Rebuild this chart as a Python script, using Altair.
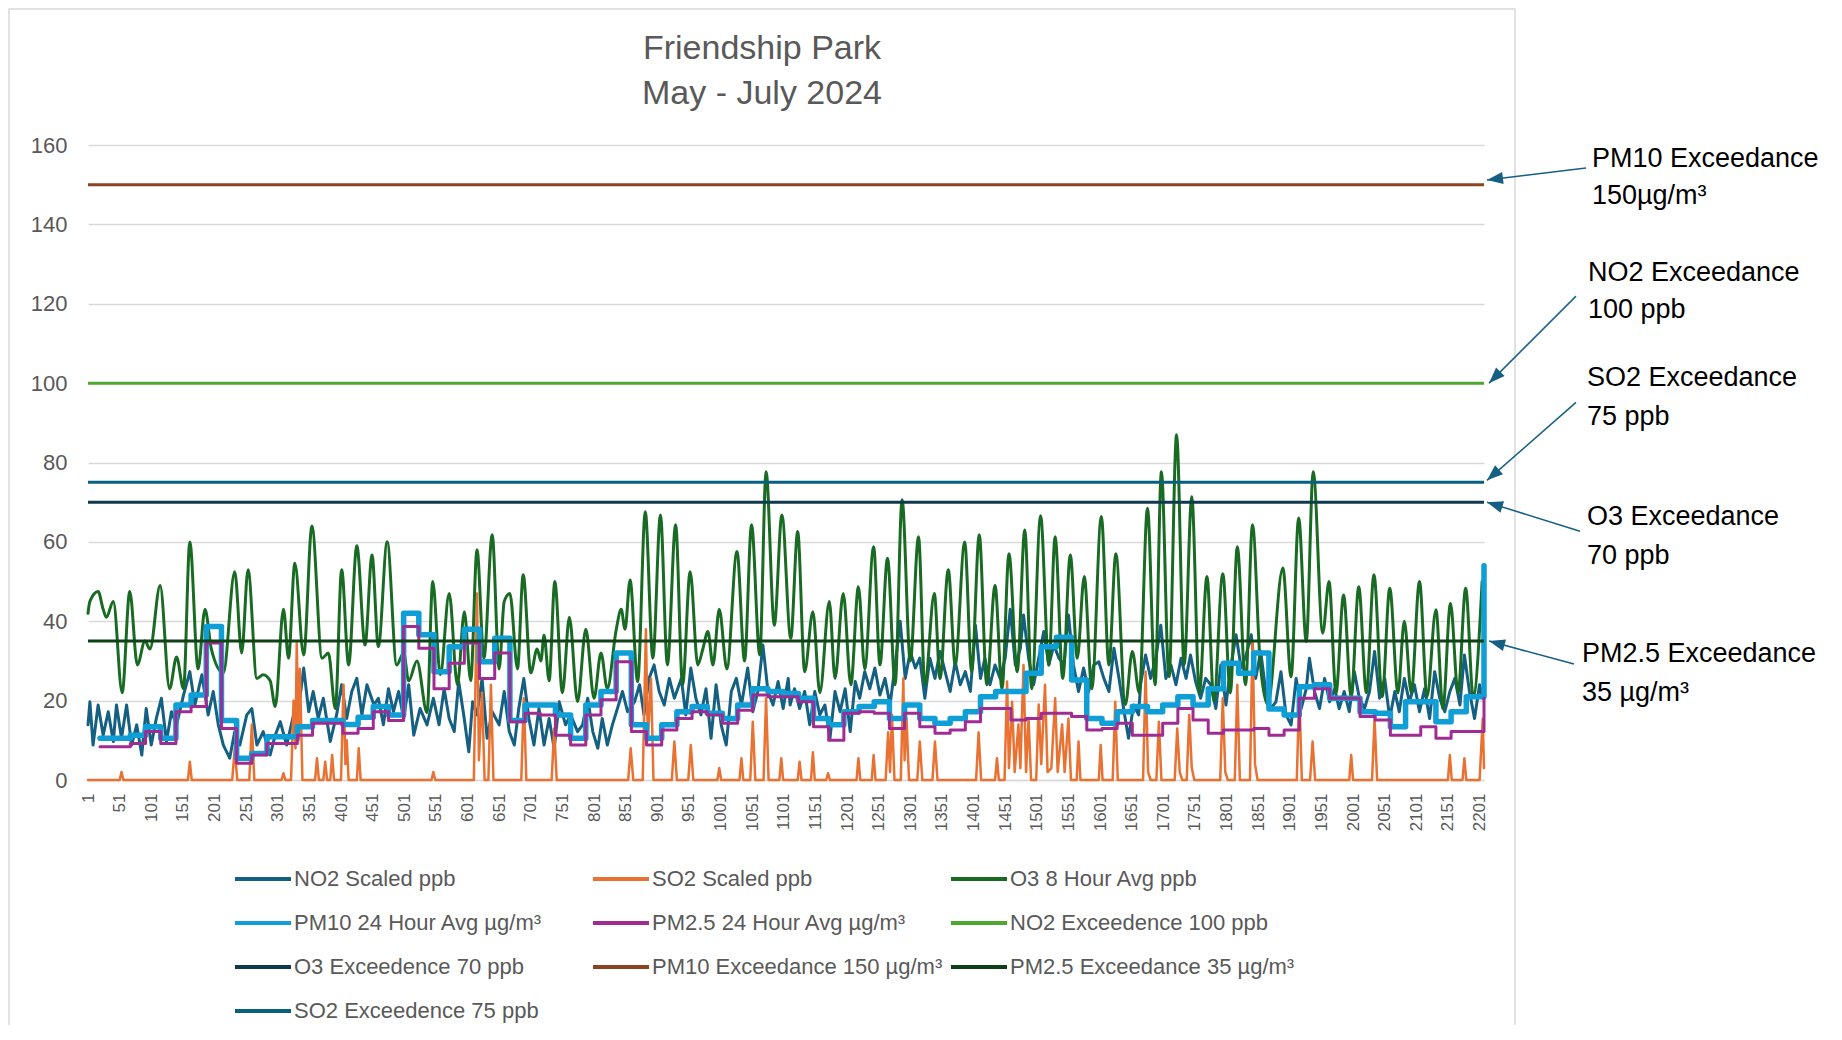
import math
import altair as alt
import pandas as pd

# ---------------- data ----------------
X_TICKS = [1, 51, 101, 151, 201, 251, 301, 351, 401, 451, 501, 551, 601, 651, 701,
           751, 801, 851, 901, 951, 1001, 1051, 1101, 1151, 1201, 1251, 1301, 1351,
           1401, 1451, 1501, 1551, 1601, 1651, 1701, 1751, 1801, 1851, 1901, 1951,
           2001, 2051, 2101, 2151, 2201]
Y_TICKS = [0, 20, 40, 60, 80, 100, 120, 140, 160]
X_FIRST, X_LAST = 1, 2208

SERIES = ["NO2 Scaled ppb", "SO2 Scaled ppb", "O3 8 Hour Avg ppb",
          "PM10 24 Hour Avg µg/m³", "PM2.5 24 Hour Avg µg/m³", "NO2 Exceedence 100 ppb",
          "O3 Exceedence 70 ppb", "PM10 Exceedance 150 µg/m³", "PM2.5 Exceedance 35 µg/m³",
          "SO2 Exceedence 75 ppb"]
COLORS = ["#156082", "#E97132", "#196B24", "#0F9ED5", "#A02B93", "#4EA72E",
          "#0D3A4E", "#8C441E", "#0F4016", "#095F80"]

# hour index, value
NO2 = [(1,13.9),(4,19.7),(9,8.8),(17,18.9),(25,11.3),(33,17.2),(41,9.7),(46,18.9),(54,10.5),(62,18.9),
       (70,8.8),(78,13.9),(86,6.3),(93,18),(101,8.8),(109,15.5),(117,20.6),(125,9.7),(133,17.2),(141,13.9),
       (152,21.4),(162,27.3),(170,18.9),(181,26.5),(191,16.4),(199,22.3),(207,13.9),(215,8.8),(225,5.5),(233,12.2),
       (241,8.8),(252,16.4),(260,18),(268,8.8),(278,12.2),(289,6.3),(297,11.3),(305,14.7),(315,8.8),(326,16.4),
       (336,20.6),(342,28.2),(350,17.2),(357,22.3),(365,15.5),(373,20.6),(384,9.7),(394,16.4),(402,24),(410,15.5),
       (418,22.3),(426,25.6),(434,16.4),(442,24),(453,18.9),(460,20.6),(468,13.9),(476,23),(484,17.2),(492,22.3),
       (500,15.5),(508,24),(516,11.3),(526,18),(537,13.9),(547,20.6),
       (556,13.9),(564,23),(572,15.5),(580,12.2),(587,24.8),(595,16.4),(603,7.1),(609,19.7),(616,16.4),(624,25.6),
       (632,10.5),(640,17.2),(651,13.9),(659,22.3),(667,12.2),(675,8.8),(682,18),(690,25.6),(698,15.5),(706,8.8),
       (714,18),(722,8.8),(730,15.5),(738,8),(746,19.7),(756,13.9),(764,16.4),(775,12.2),(783,13.9),(791,20.6),
       (799,12.2),(807,8),(814,15.5),(822,8.8),(830,13.9),(838,18),(846,22.3),(854,17.2),(865,19.7),(873,24),
       (880,16.4),(888,25.6),(896,29),(904,22.3),(912,18.9),(920,25.6),(928,20.6),(939,25.6),(946,16.4),(954,28.2),
       (962,20.6),(970,16.4),(978,23),(986,10.5),(994,24),(1002,13.9),(1010,8.8),(1018,22.3),(1026,25.6),(1034,18.9),
       (1044,28.2),(1052,17.2),(1060,22.3),(1068,34),(1076,22.3),(1084,18.9),(1092,24.8),(1100,18),(1108,25.6),
       (1111,18.9),(1118,23),(1126,18),(1134,22.3),(1142,13.9),(1150,22.3),(1158,16.4),(1166,18.9),(1174,10.5),(1182,22.3),
       (1190,17.2),(1198,23),(1206,12.2),(1214,24.8),(1221,20.6),(1229,27.3),(1237,23),(1245,28.2),(1253,21.4),(1261,25.6),
       (1269,18.9),(1277,29),(1285,40),(1293,25.6),(1301,32.4),(1309,28.2),(1316,30.7),(1324,20.6),(1332,30.7),(1340,25.6),
       (1348,32.4),(1356,27.3),(1364,22.3),(1372,29.8),(1380,24),(1388,27.3),(1396,22.3),(1404,39),(1412,25.6),(1419,30.7),
       (1427,24),(1435,29),(1443,25.6),(1451,30.7),(1459,43),(1467,29),(1475,33.2),(1480,41.6),(1488,30.7),(1496,24),
       (1504,30.7),(1512,37.4),(1520,29),(1528,34),(1536,30.7),(1544,29),(1551,41.6),(1559,29),(1567,22.3),(1575,28.2),
       (1583,22.3),(1591,29),(1599,29.8),(1607,25.6),(1615,22.3),(1623,33.2),(1631,25.6),(1639,17.2),(1646,10.5),(1654,18.9),
       (1662,16.4),
       (1665,24),(1673,31.5),(1681,25.6),(1689,30.7),(1697,39),(1705,25.6),(1713,29),(1721,24),(1729,30.7),(1737,25.6),
       (1744,31.5),(1752,24.8),(1760,20.6),(1768,25.6),(1776,24),(1784,18),(1792,29),(1800,18.9),(1808,29),(1816,36.6),
       (1824,28.2),(1832,31.5),(1840,36.6),(1847,25.6),(1855,32.4),(1863,22.3),(1871,18),(1879,19.7),(1887,27.3),(1895,16.4),
       (1903,13.9),(1911,25.6),(1919,18),(1927,23),(1932,30.7),(1940,22.3),(1948,18),(1956,25.6),(1964,19.7),(1972,23),
       (1979,18),(1987,22.3),(1995,17.2),(2003,27.3),(2011,20.6),(2019,18),(2027,22.3),(2035,32.4),(2043,20.6),(2051,25.6),
       (2059,15.5),(2067,22.3),(2074,17.2),(2082,25.6),(2090,19.7),(2098,24),(2106,17.2),(2114,23),(2122,15.5),(2130,27.3),
       (2138,20.6),(2146,17.2),(2154,22.3),(2162,25.6),(2170,18.9),(2177,31.5),(2185,22.3),(2193,15.5),(2201,24),(2206,20.6)]

SO2 = [(1,0),(51,0),(54,2),(57,0),(159,0),(162,4.6),(165,0),(229,0),(233,8),(237,0),
       (256,0),(260,14),(264,0),(307,0),(310,1.7),(313,0),
       (322,0),(326,20),(329,8),(331,34.5),(334,10),(336,28),(340,0),
       (360,0),(363,5.5),(366,0),(373,0),(376,4.6),(379,0),(384,0),(387,6.3),(390,0),
       (401,0),(405,24),(408,4),(410,10),(413,0),(426,0),(429,8),(432,0),(544,0),(547,2),(550,0),
       (611,0),(616,47),(619,5),(624,22),(628,0),(634,0),(638,24),(642,0),
       (686,0),(690,20.6),(694,0),(734,0),(738,13),(742,0),(855,0),(859,8),(863,0),
       (878,0),(883,38),(886,10),(891,25.6),(895,0),(924,0),(928,9.7),(932,0),(950,0),(954,8.8),(958,0),
       (996,0),(999,3),(1002,0),(1031,0),(1034,5.5),(1037,0),(1048,0),(1052,14.7),(1056,0),
       (1069,0),(1073,20.6),(1077,0),(1094,0),(1097,5.5),(1100,0),(1123,0),(1126,4.6),(1129,0),
       (1144,0),(1147,7),(1150,0),(1168,0),(1171,1.7),(1174,0),(1216,0),(1219,5.5),(1222,0),
       (1240,0),(1243,6.3),(1246,0),(1262,0),(1266,12),(1269,2),(1272,16.4),(1276,0),
       (1286,0),(1290,25.6),(1292,5),(1295,15.5),(1299,0),(1312,0),(1316,9.7),(1320,0),
       (1336,0),(1340,9.7),(1344,0),(1405,0),(1409,12),(1413,0),(1435,0),(1438,5.5),(1441,0),
       (1450,0),(1454,24.8),(1457,3),(1462,19.7),(1466,2),(1472,14),(1475,3),(1480,29),(1484,2),(1488,15.5),(1492,0),
       (1500,0),(1504,19),(1508,4),(1514,24),(1518,2),(1524,3),(1530,20.6),(1534,2),(1541,14),(1545,2),(1551,15.5),(1555,0),
       (1564,0),(1567,9.7),(1570,0),(1599,0),(1602,8.8),(1605,0),(1621,0),(1625,19.7),(1629,0),
       (1669,0),(1673,27.3),(1677,2),(1681,0),(1690,0),(1694,14.7),(1698,0),(1719,0),(1723,13),(1727,2),(1731,0),
       (1738,0),(1742,16.4),(1746,3),(1750,0),(1791,0),(1795,20.6),(1799,2),(1803,0),(1814,0),(1818,24),(1822,0),
       (1838,0),(1842,35),(1846,4),(1850,0),(1912,0),(1916,22.3),(1920,0),(1933,0),(1937,9.7),(1941,0),
       (1995,0),(1998,6.3),(2001,0),(2031,0),(2035,15.5),(2039,0),(2151,0),(2154,6.3),(2157,0),
       (2174,0),(2177,5.5),(2180,0),(2201,0),(2206,15.5),(2208,3)]

O3 = [(1,42),(4,45),(17,47.5),(25,43),(30,41),(41,45),(55,22),(67,47.5),(79,29),(91,35),(99,33),(115,49),
      (130,23),(141,31),(152,23),(162,60),(175,28),(186,43),(196,33),(215,27),(233,52.5),(244,32),(254,53),
      (268,25.6),(278,26.5),(289,25),(297,18.5),(310,43),(318,30.7),(328,54.6),(342,31.5),(355,64),(371,30.7),
      (381,32),(392,18),(402,53),(413,29),(426,59),(439,34),(450,56.7),(460,33.6),(474,60),(489,29),(500,32),
      (508,25),(521,30),(537,17),(546,50),
      (558,26.5),(572,47),(585,24),(596,42.4),(606,25),(616,58),(627,30.7),(640,61.8),(651,28),(659,45),(668,47),
      (680,28),(689,51.7),(701,27),(711,33),(717,30),(722,36.5),(730,25),(739,50),(751,22),(762,41),(775,19.7),
      (788,38),(801,20.6),(812,32),(822,23),(836,37.8),(844,43),(850,38),(858,50.4),(870,24.8),(882,67.6),
      (894,30.7),(906,66.8),(917,29),(930,64.3),(941,24),(953,52.5),(965,29),(973,33),(981,37.4),(989,29),
      (999,43),(1011,28),(1027,57.6),(1039,30),(1050,64.3),(1063,31.5),(1073,77.7),(1086,39),(1098,66.8),
      (1112,35.7),(1123,62.6),(1134,27.3),(1147,42.4),(1158,22),(1173,45),(1182,25.6),(1195,47),(1207,24),
      (1219,48.7),(1229,28),(1243,58.8),(1253,29),(1265,55.9),(1277,24),(1288,70.6),(1301,30),(1314,61.3),
      (1324,24),(1339,47),(1348,25.6),(1361,53),(1372,29),(1387,60),(1398,27.3),(1410,61.8),(1422,24),(1435,49),
      (1446,23),(1457,57),(1470,27.3),(1482,63),(1493,23),(1507,66.6),(1520,29),(1530,61.3),(1542,25.6),
      (1554,56.7),(1565,30.7),(1576,51.3),(1588,23),(1603,66.4),(1615,29),(1626,57),(1641,19),(1652,32.4),
      (1663,22),(1676,68.5),(1688,24),(1698,77.7),(1710,26),(1722,87),(1734,29),(1746,71.4),(1758,22),
      (1770,51.3),(1781,20),(1795,52),(1807,22),(1818,58.8),(1831,24),(1842,64.3),(1854,30),(1866,19),
      (1890,53.4),(1903,26),(1915,66),(1927,34.9),(1938,77.7),(1953,37),(1963,50),(1974,22),(1986,46.6),
      (1998,21),(2010,48.7),(2022,22),(2034,51.7),(2047,21),(2059,48.3),(2072,22),(2082,40),(2093,22),
      (2106,50),(2118,21),(2132,42.9),(2143,18),(2155,44.5),(2167,22),(2179,48.3),(2191,21),(2205,50)]

# 24-hour averages: one value per day, days start at hour PM_START
PM_START, PM_STEP = 20, 24
PM10 = [10.5, 10.5, 11.3, 13.4, 10.5, 18.9, 21.4, 38.7, 15, 5.5,
        6.7, 10.9, 10.9, 13.4, 15, 15, 14, 15.8, 18.5, 16.4,
        42, 36.6, 27.3, 33.6, 38, 29.8, 35.7, 15, 18.9, 18.9,
        16.4, 10.5, 18.9, 22.3, 32, 13.9, 10.5, 13.9, 17.2, 18.5,
        16.8, 15.5, 18.9, 23, 22.3, 21.8, 20.6, 15.5, 13.9, 17.2,
        18.5, 19.7, 15.5, 18.9, 15.5, 14.3, 15.5, 17.2, 21, 22.3,
        22.3, 26.9, 33.6, 36, 25.2, 15.5, 14.3, 17.2, 18.5, 17.2,
        18.9, 21, 18.9, 23, 29.4, 26.9, 32, 17.9, 16.4, 23.5,
        24, 20.6, 20.6, 17.2, 16.8, 13.4, 19.7, 19.7, 14.7, 17.2,
        21, 21]
PM10_LAST = 54
PM25 = [8.4, 8.4, 9.2, 12.2, 9.2, 17.2, 18.5, 34.5, 13, 4.2,
        6.3, 9.2, 9.2, 11.3, 14.3, 14.3, 11.8, 13, 17.2, 15,
        38.7, 33.2, 23, 29.4, 34.5, 25.6, 32, 14.7, 16.8, 16.4,
        11.3, 8.8, 16.4, 20.2, 29.8, 12.2, 8.8, 12.6, 15.5, 17.2,
        16.4, 14.3, 17.6, 21.4, 21, 21, 19.7, 13.4, 10, 16.8,
        17.2, 16.8, 13, 16.8, 13.4, 11.8, 12.6, 14.7, 18, 18,
        15.1, 15.5, 16.8, 16.8, 16, 12.6, 13, 14.3, 11.3, 11.3,
        14.3, 18, 15.1, 11.8, 12.6, 12.6, 13, 11.3, 12.6, 20.6,
        23, 20.6, 20.6, 16, 15.1, 11.3, 11.3, 13.4, 10.5, 12.2,
        12.2, 12.2]
PM25_LAST = 20.6

# exceedance levels for series 6..10
LIMITS = [100, 70, 150, 35, 75]

ANNOT_LINES = [["PM10 Exceedance", "150µg/m³"], ["NO2 Exceedance", "100 ppb"],
               ["SO2 Exceedance", "75 ppb"], ["O3 Exceedance", "70 ppb"],
               ["PM2.5 Exceedance", "35 µg/m³"]]
ANNOT_LEVEL = [150, 100, 75, 70, 35]

# ---------------- layout / style (pixels) ----------------
W, H = 1396, 635
TEXT_DX = [108, 104, 103, 103, 98]
TEXT_DY = [(-26, 11), (-110.5, -73), (-104, -65), (15, 54), (13, 52)]
HEAD = [(3, -4.7), (5, 0), (3, -2), (3, 0), (5, 0)]
TAIL = [(102, -16.7), (92, -87), (92, -80), (96, 29), (90, 23)]
ARROW_COLOR = "#156082"
FONT = "Liberation Sans"
GREY = "#595959"

# Vega fills legend columns top-to-bottom; this order makes the entries read
# row by row as in the reference (series order 1..10).
LEGEND_SLOT = [0, 3, 6, 8, 1, 4, 7, 9, 2, 5]
LEG_DOMAIN = [SERIES[k] for k in LEGEND_SLOT]
LEG_RANGE = [COLORS[k] for k in LEGEND_SLOT]


def pairs_df(name, pairs):
    return pd.DataFrame({"i": [p[0] for p in pairs], "v": [p[1] for p in pairs], "s": name})


def steps_df(name, vals, last):
    xs = [PM_START + PM_STEP * k for k in range(len(vals))] + [X_LAST]
    return pd.DataFrame({"i": xs, "v": list(vals) + [last], "s": name})


thr_rows = []
for name, lim in zip(SERIES[5:], LIMITS):
    thr_rows.append({"i": X_FIRST, "v": lim, "s": name})
    thr_rows.append({"i": X_LAST, "v": lim, "s": name})
thr_df = pd.DataFrame(thr_rows)

X = alt.X("i:Q", scale=alt.Scale(domain=[X_FIRST, X_LAST], nice=False, zero=False),
          axis=alt.Axis(values=X_TICKS, tickCount=len(X_TICKS) + 5, title=None, grid=False,
                        ticks=False, tickSize=0, domain=True, domainColor="#d9d9d9", domainWidth=1.5,
                        labelAngle=-90, labelFontSize=17, labelColor=GREY, labelFont=FONT,
                        labelPadding=13, labelOverlap=False, labelFlush=False, format="d"))
Y = alt.Y("v:Q", scale=alt.Scale(domain=[0, 160], nice=False),
          axis=alt.Axis(values=Y_TICKS, tickCount=20, title=None, grid=True, gridColor="#d9d9d9",
                        gridWidth=1.5, domain=False, ticks=False, tickSize=0, labelFontSize=22,
                        labelColor=GREY, labelFont=FONT, labelPadding=21))
LEGEND = alt.Legend(orient="none", legendX=145, legendY=723, columns=3, title=None,
                    symbolType="stroke", symbolSize=3136, symbolStrokeWidth=4,
                    labelFontSize=22, labelFont=FONT, labelColor=GREY, labelLimit=600,
                    labelOffset=1, columnPadding=6, rowPadding=22, gridAlign="all",
                    clipHeight=22, padding=0)
C = alt.Color("s:N", scale=alt.Scale(domain=LEG_DOMAIN, range=LEG_RANGE), legend=LEGEND)


def line(df, interp, width):
    return alt.Chart(df).mark_line(interpolate=interp, strokeWidth=width, strokeCap="round",
                                   strokeJoin="round").encode(x=X, y=Y, color=C)


frame = alt.Chart(pd.DataFrame({"k": [0]})).mark_rect(
    fillOpacity=0, stroke="#d9d9d9", strokeWidth=1.5).encode(
    x=alt.value(-79), x2=alt.value(1427), y=alt.value(-136), y2=alt.value(905))

layers = [frame,
          line(pairs_df(SERIES[0], NO2), "linear", 3),
          line(pairs_df(SERIES[1], SO2), "linear", 2.5),
          line(pairs_df(SERIES[2], O3), "monotone", 3),
          line(steps_df(SERIES[3], PM10, PM10_LAST), "step-after", 5.5),
          line(steps_df(SERIES[4], PM25, PM25_LAST), "step-after", 3),
          alt.Chart(thr_df).mark_line(strokeWidth=3).encode(x=X, y=Y, color=C)]

for k, (lines, lev) in enumerate(zip(ANNOT_LINES, ANNOT_LEVEL)):
    d = pd.DataFrame({"i": [X_LAST], "v": [lev], "t1": [lines[0]], "t2": [lines[1]]})
    hx, hy = HEAD[k]
    tx, ty = TAIL[k]
    ang = math.degrees(math.atan2(hx - tx, -(hy - ty))) % 360
    layers.append(alt.Chart(d).mark_rule(color=ARROW_COLOR, strokeWidth=1.5, xOffset=hx,
                                         yOffset=hy, x2Offset=tx, y2Offset=ty)
                  .encode(x=alt.X("i:Q"), y=alt.Y("v:Q"), x2="i:Q", y2="v:Q"))
    layers.append(alt.Chart(d).mark_point(shape="M0,0L0.75,2L-0.75,2Z", filled=True, size=256,
                                          angle=ang, color=ARROW_COLOR, opacity=1,
                                          xOffset=hx, yOffset=hy)
                  .encode(x=alt.X("i:Q"), y=alt.Y("v:Q")))
    for j, col in enumerate(["t1", "t2"]):
        layers.append(alt.Chart(d).mark_text(align="left", baseline="middle", font=FONT,
                                             fontSize=27, color="#000000", dx=TEXT_DX[k],
                                             dy=TEXT_DY[k][j])
                      .encode(x=alt.X("i:Q"), y=alt.Y("v:Q"), text=f"{col}:N"))

chart = alt.layer(*layers).properties(
    width=W, height=H,
    autosize=alt.AutoSizeParams(type="none"),
    padding={"left": 80, "top": 137, "right": 345, "bottom": 245},
    title=alt.TitleParams(text=["Friendship Park", "May - July 2024"], fontSize=34, font=FONT,
                          fontWeight="normal", color=GREY, anchor="middle", frame="group",
                          dx=-24, dy=129, offset=26, lineHeight=45),
).configure_view(strokeWidth=0)

chart.save("out.html", embed_options={"renderer": "svg", "actions": False})
